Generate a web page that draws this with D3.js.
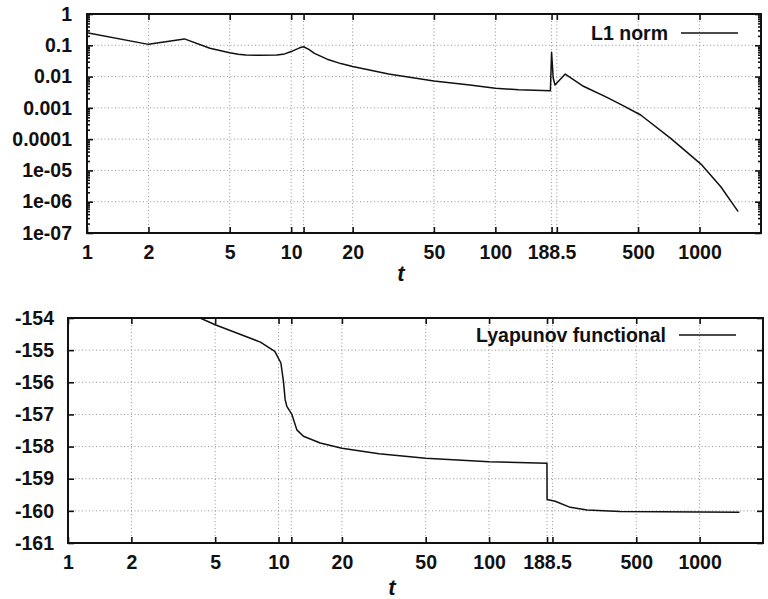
<!DOCTYPE html>
<html>
<head>
<meta charset="utf-8">
<script src="https://cdn.jsdelivr.net/npm/d3@7"></script>
<style>
  html, body { margin: 0; padding: 0; background: #fff; }
  svg text { font-family: "Liberation Sans", Arial, sans-serif; font-weight: bold; fill: #111; }
</style>
</head>
<body>
<svg id="chart" width="768" height="599"></svg>
<script>
// ---------------- data ----------------
const xTickValues = [1, 2, 5, 10, 11.5, 20, 50, 100, 188.5, 200, 500, 1000];
const xTickLabels = ["1", "2", "5", "10", "", "20", "50", "100", "188.5", "", "500", "1000"];

const l1Ticks = [1, 0.1, 0.01, 0.001, 0.0001, 1e-5, 1e-6, 1e-7];
const l1TickLabels = ["1", "0.1", "0.01", "0.001", "0.0001", "1e-05", "1e-06", "1e-07"];

const lyTicks = [-154, -155, -156, -157, -158, -159, -160, -161];
const lyTickLabels = ["-154", "-155", "-156", "-157", "-158", "-159", "-160", "-161"];

const l1T = [1, 2, 3, 4, 5, 5.5, 6, 7, 8.5, 9.3, 10, 11, 11.5, 12.2, 13, 15, 17.5, 20, 30, 50, 75, 100, 130, 186, 188.5, 192, 196, 200, 220, 270, 350, 420, 515, 720, 1026, 1271, 1546];
const l1V = [0.25, 0.107, 0.16, 0.08, 0.058, 0.052, 0.049, 0.048, 0.049, 0.053, 0.063, 0.083, 0.09, 0.074, 0.055, 0.036, 0.026, 0.021, 0.012, 0.0072, 0.0054, 0.0042, 0.0038, 0.0035, 0.06, 0.009, 0.0054, 0.0062, 0.012, 0.0049, 0.0022, 0.0012, 0.00059, 0.000108, 0.000015, 0.000003, 0.00000048];

const lyT = [4.24, 5, 7.3, 8.2, 9.6, 10.26, 10.55, 10.75, 10.95, 11.57, 12.22, 13.13, 15.77, 20, 30, 50, 100, 188.3, 188.6, 206, 243, 292, 420, 1546];
const lyV = [-154.0, -154.21, -154.62, -154.75, -155.04, -155.4, -155.97, -156.54, -156.75, -157.0, -157.48, -157.68, -157.89, -158.05, -158.22, -158.36, -158.47, -158.52, -159.65, -159.7, -159.89, -159.97, -160.02, -160.04];

const legend1 = "L1 norm";
const legend2 = "Lyapunov functional";
const xTitle = "t";

// ---------------- drawing ----------------
const svg = d3.select("#chart");
const FS = 19.5;

function panel(cfg) {
  const g = svg.append("g");
  const x = d3.scaleLog().domain([1, 2000]).range([cfg.left, cfg.right]);
  const y = cfg.yScale.range([cfg.bottom, cfg.top]);

  const clipId = "clip" + cfg.id;
  svg.append("clipPath").attr("id", clipId).append("rect")
    .attr("x", cfg.left).attr("y", cfg.top)
    .attr("width", cfg.right - cfg.left).attr("height", cfg.bottom - cfg.top);

  // grid
  const grid = g.append("g").attr("stroke", "#777").attr("stroke-width", 0.8)
    .attr("stroke-dasharray", "1,2.5");
  grid.selectAll("line.vx").data(xTickValues.filter(v => v > 1)).join("line")
    .attr("x1", d => x(d)).attr("x2", d => x(d))
    .attr("y1", cfg.top).attr("y2", cfg.bottom);
  grid.selectAll("line.hy").data(cfg.yTicks.filter((v, i) => i > 0 && i < cfg.yTicks.length - 1)).join("line")
    .attr("x1", cfg.left).attr("x2", cfg.right)
    .attr("y1", d => y(d)).attr("y2", d => y(d));

  // axes (ticks inward)
  const xAxB = d3.axisBottom(x).tickValues(xTickValues)
    .tickFormat((d, i) => xTickLabels[i]).tickSize(-6).tickPadding(12);
  g.append("g").attr("transform", `translate(0,${cfg.bottom})`).call(xAxB);
  const xAxT = d3.axisTop(x).tickValues(xTickValues).tickFormat("").tickSize(-6);
  g.append("g").attr("transform", `translate(0,${cfg.top})`).call(xAxT);

  const yAxL = d3.axisLeft(y).tickValues(cfg.yTicks)
    .tickFormat((d, i) => cfg.yLabels[i]).tickSize(-6).tickPadding(cfg.yPad);
  g.append("g").attr("transform", `translate(${cfg.left},0)`).call(yAxL);
  const yAxR = d3.axisRight(y).tickValues(cfg.yTicks).tickFormat("").tickSize(-6);
  g.append("g").attr("transform", `translate(${cfg.right},0)`).call(yAxR);

  if (cfg.minor) {
    const yAxLm = d3.axisLeft(y).tickValues(cfg.minor).tickFormat("").tickSize(-3);
    g.append("g").attr("transform", `translate(${cfg.left},0)`).call(yAxLm);
    const yAxRm = d3.axisRight(y).tickValues(cfg.minor).tickFormat("").tickSize(-3);
    g.append("g").attr("transform", `translate(${cfg.right},0)`).call(yAxRm);
  }

  g.selectAll(".domain").remove();
  g.selectAll(".tick line").attr("stroke", "#111").attr("stroke-width", 1.6);
  g.selectAll(".tick text").attr("font-size", FS).attr("font-weight", "bold")
    .attr("font-family", "'Liberation Sans', Arial, sans-serif").attr("fill", "#111");

  // frame
  g.append("rect").attr("x", cfg.left).attr("y", cfg.top)
    .attr("width", cfg.right - cfg.left).attr("height", cfg.bottom - cfg.top)
    .attr("fill", "none").attr("stroke", "#111").attr("stroke-width", 2);

  // curve
  const line = d3.line().x(d => x(d[0])).y(d => y(d[1]));
  g.append("path").datum(cfg.tv.map((t, i) => [t, cfg.vv[i]]))
    .attr("clip-path", `url(#${clipId})`)
    .attr("d", line).attr("fill", "none").attr("stroke", "#111").attr("stroke-width", 1.5)
    .attr("stroke-linejoin", "round");

  // legend
  g.append("text").attr("x", cfg.legX).attr("y", cfg.legY).attr("dy", "0.35em")
    .attr("text-anchor", "end").attr("font-size", FS).text(cfg.legend);
  g.append("line").attr("x1", cfg.legX + 13).attr("x2", cfg.legX + 70)
    .attr("y1", cfg.legY).attr("y2", cfg.legY).attr("stroke", "#111").attr("stroke-width", 1.5);

  // x title
  g.append("text").attr("x", cfg.titleX).attr("y", cfg.titleY).attr("dy", "0.35em")
    .attr("text-anchor", "middle").attr("font-size", 22)
    .attr("font-family", "'Liberation Serif', 'Times New Roman', serif")
    .attr("font-style", "italic").attr("font-weight", "bold").text(xTitle);
}

const minorL1 = [];
for (let e = -7; e < 0; e++) for (let m = 2; m <= 9; m++) minorL1.push(m * Math.pow(10, e));

panel({
  id: 1, left: 87, right: 761, top: 14, bottom: 233,
  yScale: d3.scaleLog().domain([1e-7, 1]),
  yTicks: l1Ticks, yLabels: l1TickLabels, yPad: 15, minor: minorL1,
  tv: l1T, vv: l1V, legend: legend1, legX: 668, legY: 33,
  titleX: 401, titleY: 273
});

panel({
  id: 2, left: 68, right: 763, top: 318, bottom: 543,
  yScale: d3.scaleLinear().domain([-161, -154]),
  yTicks: lyTicks, yLabels: lyTickLabels, yPad: 14, minor: null,
  tv: lyT, vv: lyV, legend: legend2, legX: 666, legY: 335,
  titleX: 392, titleY: 587
});
</script>
</body>
</html>
